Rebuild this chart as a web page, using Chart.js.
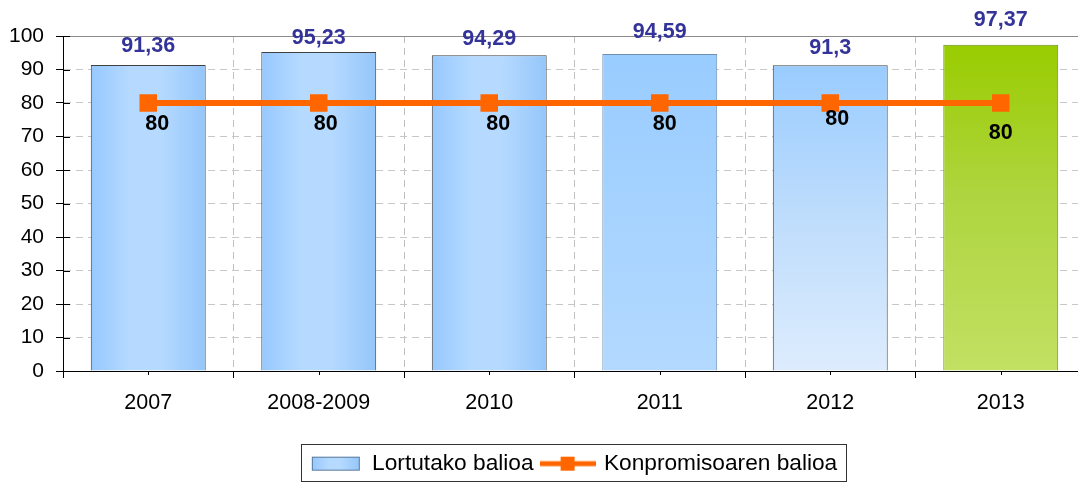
<!DOCTYPE html>
<html><head><meta charset="utf-8">
<script src="https://cdn.jsdelivr.net/npm/chart.js@4/dist/chart.umd.min.js"></script>
<style>
html,body{margin:0;padding:0;overflow:hidden;background:#fff;width:1078px;height:483px}
#wrap{position:absolute;left:0;top:0;width:1148px;height:483px}
</style>
</head><body><div id="wrap"><canvas id="c" width="1148" height="483" style="width:1148px;height:483px"></canvas></div>
<script>
// ---- data ----
const categories = ['2007', '2008-2009', '2010', '2011', '2012', '2013'];
const achievedValues = [91.36, 95.23, 94.29, 94.59, 91.3, 97.37];
const commitmentValues = [80, 80, 80, 80, 80, 80];
const seriesNames = ['Lortutako balioa', 'Konpromisoaren balioa'];
const yMin = 0, yMax = 100, yStep = 10;

// ---- styles ----
const FONT = "'Liberation Sans', Arial, sans-serif";
const BAR_PCT = 0.674;
const barFillKinds = ['h', 'h', 'h', 'v1', 'v2', 'green'];
const barBorderColors = ['#404040', '#404040', '#404040', '#6F8FAF', '#404040', '#6B8E23'];
const barLabelDy = [-19, -14, -16, -22, -17, -25];
const lineLabelDx = [9, 7, 9, 5, 7, 0];
const lineLabelDy = [21, 21, 21, 21, 16, 30];

function hGrad(c, x0, x1) {
  const g = c.createLinearGradient(x0, 0, x1, 0);
  g.addColorStop(0, '#96C8FF');
  g.addColorStop(0.35, '#B6DAFF');
  g.addColorStop(0.6, '#B6DAFF');
  g.addColorStop(1, '#94C6FA');
  return g;
}

function barFill(ctx) {
  if (ctx.type !== 'data') return '#B0D8FF';
  const chart = ctx.chart, xs = chart.scales.x, ys = chart.scales.y;
  if (!chart.chartArea || !xs || !ys) return '#B0D8FF';
  const i = ctx.dataIndex, c = chart.ctx;
  const cx = xs.getPixelForValue(i);
  const half = xs.width / categories.length * BAR_PCT / 2;
  const top = ys.getPixelForValue(achievedValues[i]);
  const bot = ys.getPixelForValue(0);
  const kind = barFillKinds[i];
  let g;
  if (kind === 'h') {
    g = hGrad(c, cx - half, cx + half);
  } else if (kind === 'v1') {
    g = c.createLinearGradient(0, top, 0, bot);
    g.addColorStop(0, '#99CCFF');
    g.addColorStop(1, '#B3D9FF');
  } else if (kind === 'v2') {
    g = c.createLinearGradient(0, top, 0, bot);
    g.addColorStop(0, '#99CCFF');
    g.addColorStop(0.45, '#BBDBFC');
    g.addColorStop(1, '#DDECFD');
  } else {
    g = c.createLinearGradient(0, top, 0, bot);
    g.addColorStop(0, '#99CC00');
    g.addColorStop(0.45, '#AED53E');
    g.addColorStop(1, '#C2E063');
  }
  return g;
}

// legend marker images
const swatch = document.createElement('canvas');
swatch.width = 50; swatch.height = 16;
(function () {
  const c = swatch.getContext('2d');
  c.fillStyle = hGrad(c, 1, 49);
  c.fillRect(1, 1, 48, 14);
  c.strokeStyle = '#56789A';
  c.lineWidth = 1;
  c.strokeRect(1.5, 1.5, 47, 13);
})();
const lineMark = document.createElement('canvas');
lineMark.width = 56; lineMark.height = 18;
(function () {
  const c = lineMark.getContext('2d');
  c.fillStyle = '#FF6600';
  c.fillRect(0, 6.5, 56, 5);
  c.fillRect(21, 2, 14, 14);
})();

const fmt = v => String(v).replace('.', ',');

const extrasPlugin = {
  id: 'extras',
  afterLayout(chart) {
    const lg = chart.legend;
    if (lg) {
      lg.left = 0;
      lg.right = chart.width;
      lg.width = chart.width;
      lg.top += 2;
      lg.bottom += 2;
    }
  },
  beforeDatasetsDraw(chart) {
    const c = chart.ctx, xs = chart.scales.x, ys = chart.scales.y;
    c.save();
    c.strokeStyle = '#000';
    c.lineWidth = 1;
    c.beginPath();
    for (let v = yMin; v <= yMax; v += yStep) {
      const y = Math.round(ys.getPixelForValue(v)) + 0.5;
      c.moveTo(xs.left, y); c.lineTo(xs.left + 7, y);
    }
    for (let i = 0; i < categories.length; i++) {
      const x = Math.round(xs.getPixelForValue(i)) + 0.5;
      c.moveTo(x, ys.bottom); c.lineTo(x, ys.bottom + 4);
    }
    c.stroke();
    c.restore();
  },
  afterDatasetsDraw(chart) {
    const c = chart.ctx;
    const barMeta = chart.getDatasetMeta(0);
    const lineMeta = chart.getDatasetMeta(1);
    c.save();
    c.font = 'bold 21.5px ' + FONT;
    c.textAlign = 'center';
    c.textBaseline = 'middle';
    c.fillStyle = '#333399';
    barMeta.data.forEach((el, i) => {
      c.fillText(fmt(achievedValues[i]), el.x, el.y + barLabelDy[i]);
    });
    c.fillStyle = '#000';
    lineMeta.data.forEach((el, i) => {
      c.fillText(fmt(commitmentValues[i]), el.x + lineLabelDx[i], el.y + lineLabelDy[i]);
    });
    c.restore();
  },
  afterDraw(chart) {
    const hb = chart.legend && chart.legend.legendHitBoxes;
    if (!hb || !hb.length) return;
    const c = chart.ctx;
    const first = hb[0], last = hb[hb.length - 1];
    const left = Math.round(first.left - 10) + 0.5;
    const right = Math.round(last.left + last.width + 9) + 0.5;
    const top = Math.round(first.top - 8) + 0.5;
    const bottom = Math.round(first.top + first.height + 6) + 0.5;
    c.save();
    c.strokeStyle = '#333';
    c.lineWidth = 1;
    c.strokeRect(left, top, right - left, bottom - top);
    c.restore();
  }
};

const gridDash = ctx => (ctx.tick ? (ctx.type === 'tick' && ctx.tick.value === 100 && ctx.scale.axis === 'y' ? [] : [7, 5]) : []);

new Chart(document.getElementById('c'), {
  data: {
    labels: categories,
    datasets: [
      {
        type: 'bar',
        label: seriesNames[0],
        data: achievedValues,
        backgroundColor: barFill,
        borderColor: barBorderColors,
        borderWidth: 1,
        barPercentage: BAR_PCT,
        categoryPercentage: 1,
        order: 2
      },
      {
        type: 'line',
        label: seriesNames[1],
        data: commitmentValues,
        borderColor: '#FF6600',
        backgroundColor: '#FF6600',
        borderWidth: 6,
        pointStyle: 'rect',
        pointRadius: 12.4,
        pointBorderWidth: 0,
        pointBackgroundColor: '#FF6600',
        tension: 0,
        order: 1
      }
    ]
  },
  options: {
    responsive: false,
    devicePixelRatio: 1,
    animation: false,
    layout: { padding: { top: 36, right: 62, bottom: 0, left: 0 } },
    scales: {
      x: {
        offset: true,
        grid: {
          offset: true,
          color: '#C0C0C0',
          lineWidth: 1,
          drawTicks: true,
          tickLength: 7,
          tickColor: '#000',
          tickWidth: 1
        },
        border: { display: true, color: '#000', width: 1, dash: gridDash },
        ticks: { color: '#000', font: { family: FONT, size: 21.5 }, padding: 12, maxRotation: 0, autoSkip: false },
        afterFit(s) {
          const lh = s.chart.legend ? s.chart.legend.height : 41;
          s.height = s.chart.height - lh - 371;
        }
      },
      y: {
        min: yMin,
        max: yMax,
        grid: {
          color: ctx => (ctx.tick && ctx.tick.value === 100 ? '#8C8C8C' : '#C8C8C8'),
          lineWidth: 1,
          drawTicks: true,
          tickLength: 7,
          tickColor: '#000',
          tickWidth: 1
        },
        border: { display: true, color: '#000', width: 1, dash: gridDash },
        ticks: { stepSize: yStep, color: '#000', font: { family: FONT, size: 21 }, padding: 12 },
        afterFit(s) { s.width = 63; }
      }
    },
    plugins: {
      tooltip: { enabled: false },
      legend: {
        position: 'bottom',
        labels: {
          usePointStyle: true,
          pointStyleWidth: 50,
          padding: 9,
          color: '#000',
          font: { family: FONT, size: 22.7 },
          generateLabels() {
            return [
              { text: seriesNames[0], pointStyle: swatch, datasetIndex: 0, fillStyle: '#B0D8FF', strokeStyle: '#56789A', lineWidth: 0, hidden: false, fontColor: '#000' },
              { text: seriesNames[1], pointStyle: lineMark, datasetIndex: 1, fillStyle: '#FF6600', strokeStyle: '#FF6600', lineWidth: 0, hidden: false, fontColor: '#000' }
            ];
          }
        }
      }
    }
  },
  plugins: [extrasPlugin]
});
</script>
</body></html>
